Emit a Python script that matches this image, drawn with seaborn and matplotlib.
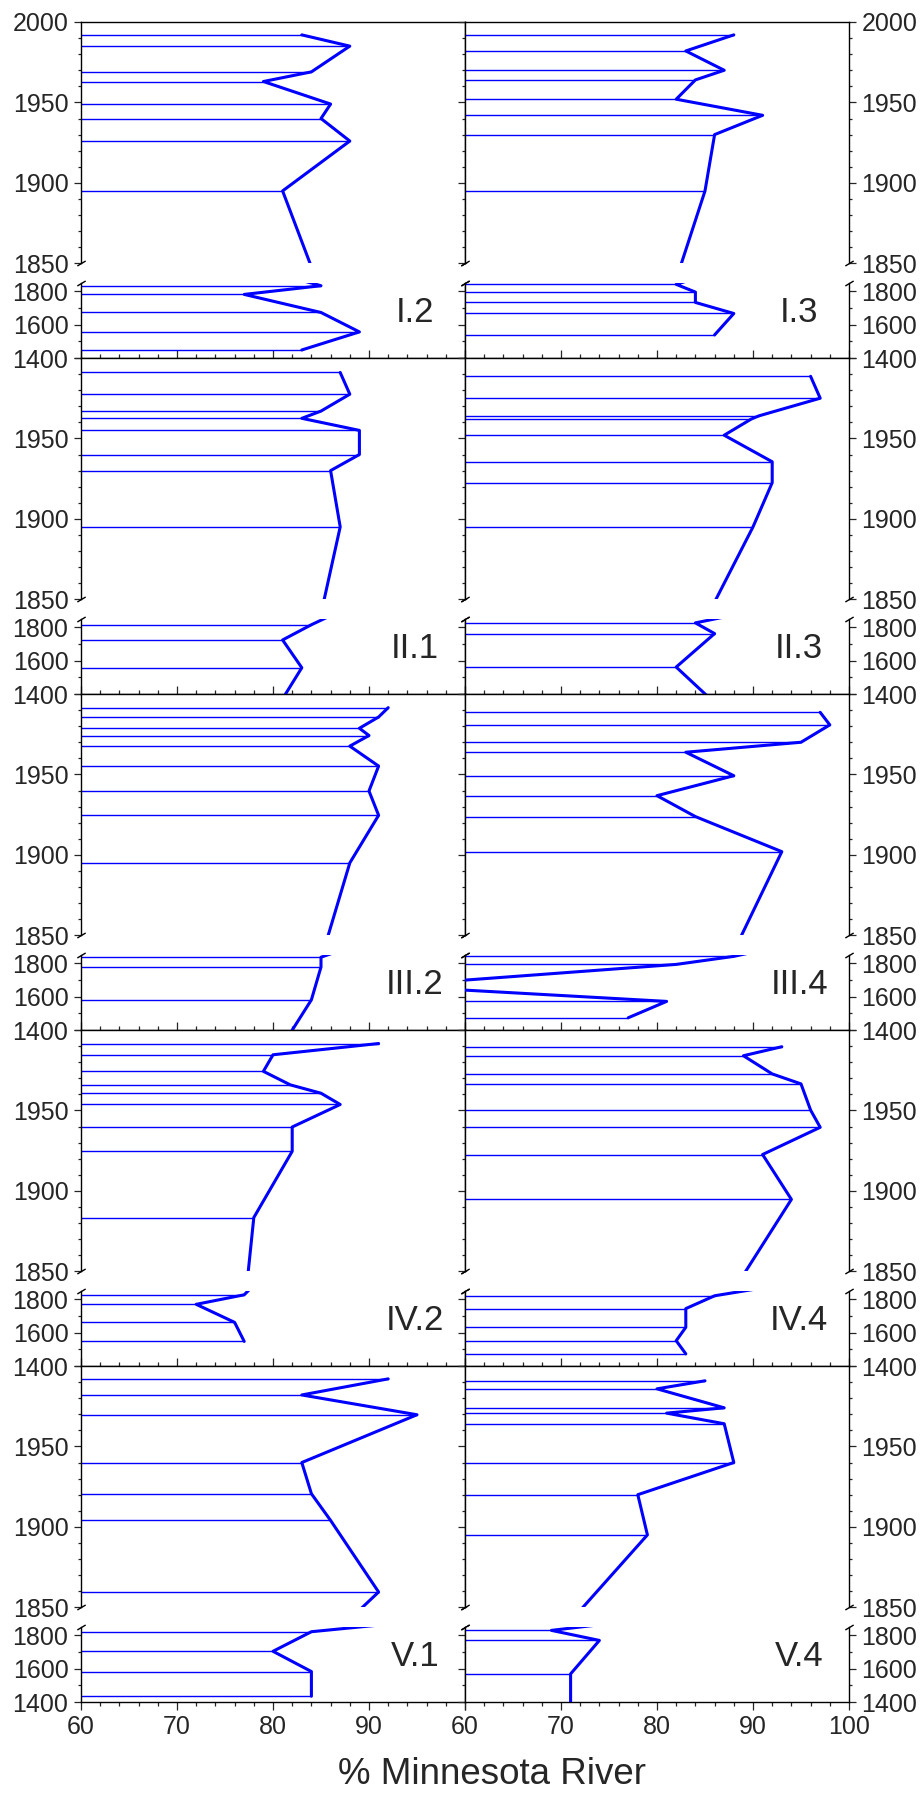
import matplotlib
matplotlib.use("Agg")
import matplotlib.pyplot as plt
import seaborn as sns
from matplotlib.ticker import MultipleLocator, FixedLocator, FuncFormatter

# ---------------- data (year of sample, % Minnesota River) ----------------
years_I2 = [1992, 1985, 1969, 1963, 1949, 1940, 1926, 1895, 1832, 1780, 1672, 1556, 1448]
pct_I2 = [83, 88, 84, 79, 86, 85, 88, 81, 85, 77, 85, 89, 83]

years_I3 = [1992, 1982, 1970, 1964, 1952, 1942, 1930, 1895, 1840, 1794, 1732, 1666, 1538]
pct_I3 = [88, 83, 87, 84, 82, 91, 86, 85, 82, 84, 84, 88, 86]

years_II1 = [1991, 1977.5, 1967, 1962.5, 1955, 1940, 1930, 1895, 1814, 1723, 1557, 1390]
pct_II1 = [87, 88, 85, 83, 89, 89, 86, 87, 84, 81, 83, 81.2]

years_II3 = [1988.6, 1975, 1964, 1962, 1952, 1935.5, 1922.5, 1895, 1825, 1761, 1561, 1390]
pct_II3 = [96, 97, 90.6, 89.8, 87, 92, 92, 90, 84, 86, 82, 85.2]

years_III2 = [1991.5, 1985.7, 1978.7, 1974.2, 1967.6, 1955.2, 1939.7, 1924.6, 1895, 1835, 1776.5, 1580.5, 1390]
pct_III2 = [92, 91, 89, 90, 88, 91, 90, 91, 88, 85, 85, 84, 81.9]

years_III4 = [1988.6, 1980.8, 1970, 1963.8, 1949.2, 1936.8, 1923.8, 1902, 1840, 1792, 1664, 1571, 1473]
pct_III4 = [97, 98, 95, 83, 88, 80, 84, 93, 88, 82, 52, 81, 77]

years_IV2 = [1991.6, 1984.6, 1974.3, 1965.9, 1960.7, 1953.7, 1939.7, 1924.6, 1883.4, 1825.5, 1768.6, 1660.8, 1547]
pct_IV2 = [91, 80, 79, 81.8, 85, 87, 82, 82, 78, 77, 72, 76, 77]

years_IV4 = [1989.6, 1984, 1972.7, 1966.5, 1950.2, 1939.5, 1922.6, 1894.7, 1819.6, 1743, 1631.4, 1551, 1472.7]
pct_IV4 = [93, 89, 92, 95, 96, 97, 91, 94, 86, 83, 83, 82, 83]

years_V1 = [1992, 1982, 1969.7, 1940, 1920.6, 1904, 1859.5, 1820, 1703, 1582, 1434.5]
pct_V1 = [92, 83, 95, 83, 84, 86, 91, 84, 80, 84, 84]

years_V4 = [1990.8, 1985.8, 1974, 1970.7, 1964.1, 1940, 1920, 1895, 1828, 1768, 1568, 1390]
pct_V4 = [85, 80, 87, 81, 87, 88, 78, 79, 69, 74, 71, 71]

panel_labels = [["I.2", "I.3"], ["II.1", "II.3"], ["III.2", "III.4"],
                ["IV.2", "IV.4"], ["V.1", "V.4"]]
panel_data = {
    "I.2": (years_I2, pct_I2), "I.3": (years_I3, pct_I3),
    "II.1": (years_II1, pct_II1), "II.3": (years_II3, pct_II3),
    "III.2": (years_III2, pct_III2), "III.4": (years_III4, pct_III4),
    "IV.2": (years_IV2, pct_IV2), "IV.4": (years_IV4, pct_IV4),
    "V.1": (years_V1, pct_V1), "V.4": (years_V4, pct_V4),
}
x_label = "% Minnesota River"

# ---------------- style ----------------
sns.set_style("ticks")
plt.rcParams["font.family"] = ["Liberation Sans", "DejaVu Sans"]
plt.rcParams["axes.linewidth"] = 1.0

W, H = 924, 1796
fig = plt.figure(figsize=(W / 100, H / 100), dpi=100)

LINE_C = "#0000ff"
X0, COLW = 81, 384
TOP0, PANEL_H = 22, 336
UP_H, LO_OFF, LO_H = 241.3, 260.7, 75.3


def break_marks(ax, y):
    ax.plot([0, 1], [y, y], transform=ax.transAxes, linestyle="none",
            marker=[(-1, -0.6), (1, 0.6)], markersize=6, markeredgewidth=1.0,
            color="k", mec="k", clip_on=False, zorder=5)


for r in range(5):
    T = TOP0 + PANEL_H * r
    for c in range(2):
        lab = panel_labels[r][c]
        yrs, pct = panel_data[lab]
        left = (X0 + COLW * c) / W
        width = COLW / W
        up = fig.add_axes([left, 1 - (T + UP_H) / H, width, UP_H / H])
        lo = fig.add_axes([left, 1 - (T + PANEL_H) / H, width, LO_H / H])
        for ax in (up, lo):
            ax.hlines(yrs, 60, pct, color=LINE_C, lw=1.0, zorder=2)
            sns.lineplot(x=pct, y=yrs, sort=False, estimator=None, color=LINE_C,
                         lw=2.2, ax=ax, zorder=3)
            ax.set_xlim(60, 100)
            ax.set_xlabel("")
            ax.set_ylabel("")
            ax.tick_params(axis="y", which="major", length=5, width=0.9,
                           direction="out", labelsize=18, pad=4)
            ax.tick_params(axis="y", which="minor", length=2.5, width=0.9,
                           direction="out")
            if c == 0:
                ax.tick_params(axis="y", which="both", left=True, right=False,
                               labelleft=True, labelright=False)
            else:
                ax.tick_params(axis="y", which="both", left=True, right=True,
                               labelleft=False, labelright=True)
            for s in ("left", "right", "top", "bottom"):
                ax.spines[s].set_color("k")

        # upper part 1850-2000
        up.set_ylim(1850, 2000)
        up.yaxis.set_major_locator(FixedLocator([1850, 1900, 1950, 2000]))
        up.yaxis.set_minor_locator(MultipleLocator(10))
        up.yaxis.set_major_formatter(FuncFormatter(
            lambda v, p, rr=r: "" if (v >= 2000 and rr > 0) else f"{v:.0f}"))
        up.spines["bottom"].set_visible(False)
        up.tick_params(axis="x", which="both", bottom=False, top=False,
                       labelbottom=False)
        break_marks(up, 0)

        # lower part 1400-1850
        lo.set_ylim(1400, 1850)
        lo.yaxis.set_major_locator(FixedLocator([1400, 1600, 1800]))
        lo.yaxis.set_minor_locator(MultipleLocator(100))
        lo.yaxis.set_major_formatter(FuncFormatter(lambda v, p: f"{v:.0f}"))
        lo.spines["top"].set_visible(False)
        lo.xaxis.set_major_locator(MultipleLocator(10))
        lo.xaxis.set_minor_locator(MultipleLocator(2))
        last = (r == 4)
        lo.tick_params(axis="x", which="major", length=5.5, width=0.9,
                       direction="out" if last else "in", top=False,
                       labelbottom=last, labelsize=18, pad=4)
        lo.tick_params(axis="x", which="minor", length=2.8, width=0.9,
                       direction="out" if last else "in", top=False)
        lo.xaxis.set_major_formatter(FuncFormatter(
            lambda v, p, cc=c: "" if (cc == 0 and v >= 100) else f"{v:.0f}"))
        break_marks(lo, 1)

        lo.text(0.87, 0.48, lab, transform=lo.transAxes, ha="center",
                va="baseline", fontsize=25)

fig.text(492 / W, 1 - 1784 / H, x_label, ha="center", va="baseline", fontsize=26.5)

fig.savefig("out.png", dpi=100)
